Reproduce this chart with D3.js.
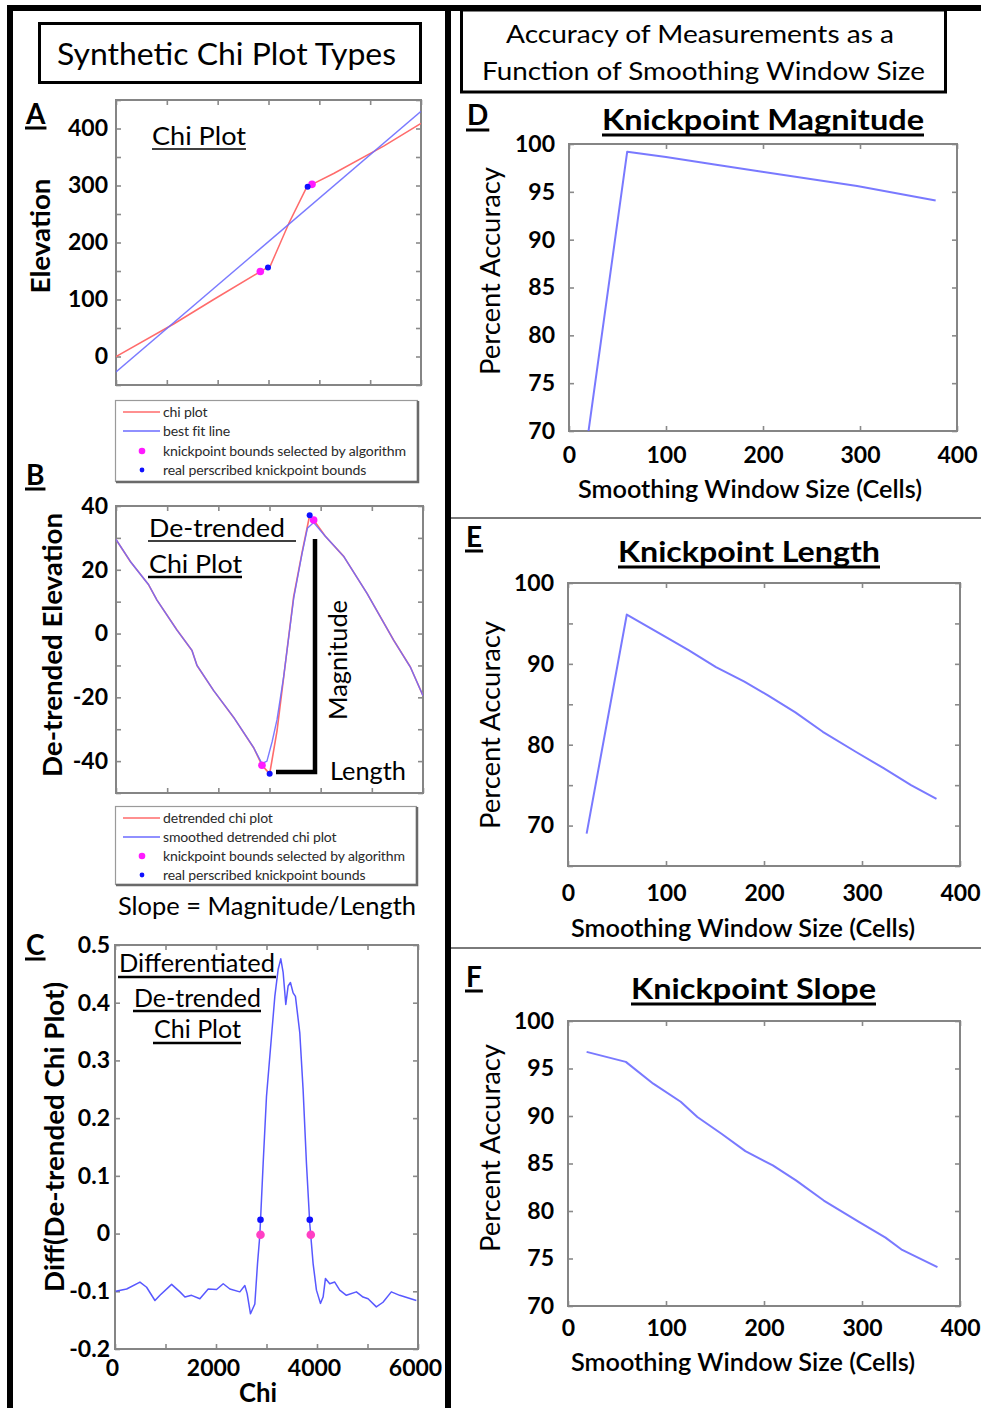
<!DOCTYPE html>
<html><head><meta charset="utf-8">
<script src="https://cdn.jsdelivr.net/npm/d3@7"></script>
<style>
body{margin:0;background:#fff}
svg{display:block}
text{font-family:Lato,"Open Sans",sans-serif}
</style>
</head><body>
<svg id="c" width="981" height="1408"></svg>
<script>
// ---------------- DATA ----------------
// Panel A: chi plot
const chiA  = [0, 1134, 1921, 2839, 3036, 3397, 3757, 3856, 4282, 5265, 6000];
const elevA = [0, 57, 100, 149, 159, 233, 298, 302, 321, 369, 409];
const bestFitChi  = [0, 6000];
const bestFitElev = [-27, 430];
const algoChiA = [2839, 3856], algoElevA = [149, 302];
const realChiA = [2990, 3770], realElevA = [156, 298];
const aYTicks = [-50, 0, 50, 100, 150, 200, 250, 300, 350, 400, 450];
const aYLabels = [0, 100, 200, 300, 400];
const chiTicks = [0, 1000, 2000, 3000, 4000, 5000, 6000];

// Panel B: de-trended chi plot
const detChi = [0, 280, 638, 801, 1192, 1485, 1583, 1909, 2300, 2690, 2853, 3003, 3147, 3277, 3472, 3635, 3785, 3863, 4091, 4450, 4906, 5427, 5753, 6000];
const detVal = [29.5, 22.6, 15.3, 10.5, 1.1, -5.3, -10, -17.9, -26.3, -35.8, -41.3, -44, -30.5, -13.7, 11.6, 25.3, 37.1, 35.6, 30.5, 24.2, 12.6, -2.1, -10.5, -19.5];
const smChi = [0, 280, 638, 801, 1192, 1485, 1583, 1909, 2300, 2690, 2853, 2950, 3050, 3147, 3277, 3472, 3635, 3740, 3863, 4091, 4450, 4906, 5427, 5753, 6000];
const smVal = [29.5, 22.6, 15.3, 10.5, 1.1, -5.3, -10, -17.9, -26.3, -35.8, -40.8, -40, -34, -27, -13.5, 11, 25, 33, 34.8, 30.5, 24.2, 12.6, -2.1, -10.5, -19.5];
const algoChiB = [2853, 3863], algoValB = [-41.3, 35.6];
const realChiB = [3003, 3785], realValB = [-44, 37.1];
const bYTicks = [-50, -40, -30, -20, -10, 0, 10, 20, 30, 40];
const bYLabels = [-40, -20, 0, 20, 40];

// Panel C: differentiated de-trended chi plot
const diffChi = [13, 231, 494, 626, 791, 890, 1121, 1286, 1385, 1516, 1681, 1846, 2011, 2143, 2275, 2472, 2571, 2617, 2683, 2769, 2822, 2868, 2934, 3000, 3099, 3165, 3231, 3283, 3330, 3382, 3428, 3474, 3527, 3573, 3659, 3725, 3791, 3857, 3923, 3989, 4068, 4121, 4167, 4252, 4351, 4450, 4582, 4780, 4912, 5011, 5175, 5307, 5472, 5637, 5967];
const diffVal = [-0.100, -0.096, -0.084, -0.093, -0.116, -0.107, -0.088, -0.101, -0.110, -0.107, -0.113, -0.096, -0.097, -0.087, -0.096, -0.101, -0.090, -0.104, -0.139, -0.122, -0.052, -0.003, 0.122, 0.238, 0.342, 0.411, 0.458, 0.476, 0.452, 0.397, 0.429, 0.435, 0.417, 0.411, 0.348, 0.249, 0.122, 0.017, -0.052, -0.098, -0.121, -0.110, -0.078, -0.087, -0.084, -0.098, -0.107, -0.101, -0.110, -0.113, -0.127, -0.119, -0.101, -0.107, -0.116];
const algoChiC = [2881, 3877], algoValC = [-0.002, -0.002];
const realChiC = [2881, 3857], realValC = [0.024, 0.024];
const cYTicks = [-0.2, -0.1, 0, 0.1, 0.2, 0.3, 0.4, 0.5];
const cXLabels = [0, 2000, 4000, 6000];

// Panels D-F: accuracy vs smoothing window size
const windowD = [20, 60, 100, 150, 199, 297, 378];
const accMagnitude = [69.9, 99.2, 98.65, 97.85, 97.1, 95.6, 94.1];
const windowE = [19, 60, 100, 123, 151, 180, 204, 232, 260, 294, 322, 350, 376];
const accLength = [69.0, 96.1, 93.3, 91.7, 89.6, 87.8, 86.1, 84.0, 81.6, 79.1, 77.1, 75.0, 73.3];
const windowF = [19, 59, 87, 115, 132, 157, 181, 209, 233, 261, 296, 324, 341, 377];
const accSlope = [96.75, 95.7, 93.4, 91.5, 89.9, 88.1, 86.3, 84.8, 83.2, 81.1, 78.9, 77.2, 75.9, 74.1];
const winTicks = [0, 100, 200, 300, 400];
const accTicks70 = [70, 75, 80, 85, 90, 95, 100];
const accTicks65 = [65, 70, 75, 80, 85, 90, 95, 100];
const accLabels65 = [70, 80, 90, 100];

// ---------------- DRAWING ----------------
const svg = d3.select('#c');
svg.append('rect').attr('width', 981).attr('height', 1408).attr('fill', '#fff');

function T(g, str, x, y, o) {
  o = o || {};
  const t = g.append('text').attr('x', x).attr('y', y).text(str)
    .attr('font-size', o.size || 24).attr('font-weight', o.w || 400)
    .attr('text-anchor', o.anchor || 'start').attr('fill', o.fill || '#000');
  if (o.family) t.attr('font-family', o.family);
  if (o.len) t.attr('textLength', o.len).attr('lengthAdjust', 'spacingAndGlyphs');
  if (o.rot) t.attr('transform', `rotate(${o.rot},${x},${y})`);
  return t;
}
function U(g, x1, x2, y, w) {
  g.append('line').attr('x1', x1).attr('x2', x2).attr('y1', y).attr('y2', y)
    .attr('stroke', '#000').attr('stroke-width', w || 2);
}

// outer frame
const fr = svg.append('g');
fr.append('line').attr('x1', 7).attr('x2', 981).attr('y1', 8).attr('y2', 8).attr('stroke', '#000').attr('stroke-width', 6);
fr.append('line').attr('x1', 10).attr('x2', 10).attr('y1', 5).attr('y2', 1408).attr('stroke', '#000').attr('stroke-width', 6);
fr.append('line').attr('x1', 448).attr('x2', 448).attr('y1', 5).attr('y2', 1408).attr('stroke', '#000').attr('stroke-width', 6);
[518, 948].forEach(yy => fr.append('line').attr('x1', 451).attr('x2', 981).attr('y1', yy).attr('y2', yy)
  .attr('stroke', '#7a7a7a').attr('stroke-width', 2));

// title boxes
fr.append('rect').attr('x', 39.5).attr('y', 23.5).attr('width', 381).attr('height', 59)
  .attr('fill', 'none').attr('stroke', '#000').attr('stroke-width', 3);
T(fr, 'Synthetic Chi Plot Types', 57, 65, {size: 30, len: 339});
fr.append('rect').attr('x', 461.5).attr('y', 10).attr('width', 484).attr('height', 82)
  .attr('fill', 'none').attr('stroke', '#000').attr('stroke-width', 3);
T(fr, 'Accuracy of Measurements as a', 506, 43, {size: 25, len: 388});
T(fr, 'Function of Smoothing Window Size', 482, 80, {size: 25, len: 443});

// panel letters
[['A', 26, 124, 128], ['B', 26, 485, 489], ['C', 26, 955, 959],
 ['D', 467, 125, 130], ['E', 466, 547, 551], ['F', 466, 987, 991]].forEach(([l, x, y, uy]) => {
  const t = T(fr, l, x, y, {size: 28, w: 700});
  const w = t.node().getComputedTextLength();
  U(fr, x - 1, x + w + 1, uy, 3);
});

let clipId = 0;
function panel(o) {
  const x = d3.scaleLinear().domain(o.xd).range([o.x0, o.x1]);
  const y = d3.scaleLinear().domain(o.yd).range([o.y1, o.y0]);
  const g = svg.append('g');
  const id = 'clip' + (clipId++);
  g.append('clipPath').attr('id', id).append('rect')
    .attr('x', o.x0).attr('y', o.y0).attr('width', o.x1 - o.x0).attr('height', o.y1 - o.y0);
  const style = s => {
    s.select('.domain').remove();
    s.selectAll('.tick line').attr('stroke', '#8a8a8a').attr('stroke-width', 1.6);
    s.selectAll('.tick text').attr('font-family', 'Lato, sans-serif').attr('font-size', o.tsize || 23)
      .attr('font-weight', o.tw || 700).attr('fill', '#000');
  };
  const yl = o.yl || o.yt;
  g.append('g').attr('transform', `translate(${o.x0},0)`)
    .call(d3.axisLeft(y).tickValues(o.yt).tickSize(-5).tickPadding(o.yPad)
      .tickFormat(d => yl.includes(d) ? String(d) : '')).call(style);
  g.append('g').attr('transform', `translate(${o.x1},0)`)
    .call(d3.axisRight(y).tickValues(o.yt).tickSize(-5).tickFormat('')).call(style);
  const xl = o.xl || [];
  const xa = g.append('g').attr('transform', `translate(0,${o.y1})`)
    .call(d3.axisBottom(x).tickValues(o.xt).tickSize(-5).tickPadding(o.xPad || 10)
      .tickFormat(d => xl.includes(d) ? String(d) : '')).call(style);
  if (o.xdx) xa.selectAll('.tick text').attr('dx', o.xdx);
  g.append('g').attr('transform', `translate(0,${o.y0})`)
    .call(d3.axisTop(x).tickValues(o.xt).tickSize(-5).tickFormat('')).call(style);
  g.append('rect').attr('x', o.x0).attr('y', o.y0).attr('width', o.x1 - o.x0).attr('height', o.y1 - o.y0)
    .attr('fill', 'none').attr('stroke', '#858585').attr('stroke-width', 2);
  const plot = g.append('g').attr('clip-path', `url(#${id})`);
  return {x, y, g, plot};
}
function drawLine(p, xs, ys, color, w, op) {
  const idx = d3.range(xs.length);
  p.plot.append('path').datum(idx)
    .attr('d', d3.line().x(i => p.x(xs[i])).y(i => p.y(ys[i])))
    .attr('fill', 'none').attr('stroke', color).attr('stroke-width', w)
    .attr('stroke-opacity', op == null ? 1 : op).attr('stroke-linejoin', 'round');
}
function drawDots(p, xs, ys, color, r) {
  p.g.selectAll(null).data(d3.range(xs.length)).enter().append('circle')
    .attr('cx', i => p.x(xs[i])).attr('cy', i => p.y(ys[i])).attr('r', r).attr('fill', color);
}
function legend(x0, y0, x1, y1, items) {
  const g = svg.append('g');
  g.append('rect').attr('x', x0 + 0.5).attr('y', y0 + 0.5).attr('width', x1 - x0 - 1).attr('height', y1 - y0 - 1)
    .attr('fill', '#fff').attr('stroke', '#9a9a9a').attr('stroke-width', 1.2);
  g.append('path').attr('d', `M${x0 + 1},${y1} H${x1} V${y0 + 1}`).attr('fill', 'none')
    .attr('stroke', '#6a6a6a').attr('stroke-width', 2.5);
  const texts = [];
  items.forEach(it => {
    if (it.type === 'line') {
      g.append('line').attr('x1', x0 + 8).attr('x2', x0 + 45).attr('y1', it.y).attr('y2', it.y)
        .attr('stroke', it.color).attr('stroke-width', 1.4);
    } else {
      g.append('circle').attr('cx', x0 + 27).attr('cy', it.y).attr('r', it.r).attr('fill', it.color);
    }
    texts.push(T(g, it.label, x0 + 48, it.y + 4.5, {size: 13, family: '"Liberation Sans", Arial, sans-serif', fill: '#2a2a2a'}));
  });
  // fit the longest label to the box width
  const maxW = d3.max(texts, t => t.node().getComputedTextLength());
  const fs = 13 * (x1 - x0 - 54) / maxW;
  texts.forEach(t => t.attr('font-size', fs).attr('letter-spacing', -0.15));
}

const RED = '#ff6b6b', BLUE = '#6b6bff';

// ---- Panel A ----
const pA = panel({x0: 116, x1: 421, y0: 100, y1: 385, xd: [0, 6000], yd: [-50, 450],
  yt: aYTicks, yl: aYLabels, xt: chiTicks, xl: [], yPad: 8});
drawLine(pA, chiA, elevA, RED, 1.5);
drawLine(pA, bestFitChi, bestFitElev, BLUE, 1.4, 0.9);
drawDots(pA, algoChiA, algoElevA, '#ff1aff', 3.8);
drawDots(pA, realChiA, realElevA, '#1010ff', 3);
T(svg, 'Chi Plot', 152, 145, {size: 25, len: 94});
U(svg, 152, 246, 149, 1.6);
T(svg, 'Elevation', 50, 236, {size: 26, w: 700, anchor: 'middle', rot: -90, len: 115});
legend(115, 400, 418, 482, [
  {type: 'line', color: RED, label: 'chi plot', y: 412},
  {type: 'line', color: BLUE, label: 'best fit line', y: 431},
  {type: 'dot', color: '#ff1aff', r: 3.3, label: 'knickpoint bounds selected by algorithm', y: 451},
  {type: 'dot', color: '#1010ff', r: 2.4, label: 'real perscribed knickpoint bounds', y: 470}
]);

// ---- Panel B ----
const pB = panel({x0: 116, x1: 423, y0: 506, y1: 793, xd: [0, 6000], yd: [-50, 40],
  yt: bYTicks, yl: bYLabels, xt: chiTicks, xl: [], yPad: 8});
drawLine(pB, detChi, detVal, RED, 1.6);
drawLine(pB, smChi, smVal, BLUE, 1.4, 0.9);
drawDots(pB, algoChiB, algoValB, '#ff1aff', 3.8);
drawDots(pB, realChiB, realValB, '#1010ff', 3);
T(svg, 'De-trended', 149, 537, {size: 25, len: 136});
U(svg, 148, 296, 541, 1.5);
T(svg, 'Chi Plot', 149, 573, {size: 25, len: 93});
U(svg, 148, 242, 577, 2.5);
// magnitude / length bracket
svg.append('path').attr('d', 'M315,539 V772 H276').attr('fill', 'none')
  .attr('stroke', '#000').attr('stroke-width', 4.5);
T(svg, 'Magnitude', 347, 660, {size: 25, anchor: 'middle', rot: -90, len: 120});
T(svg, 'Length', 330, 780, {size: 25, len: 76});
T(svg, 'De-trended Elevation', 62, 645, {size: 26, w: 700, anchor: 'middle', rot: -90, len: 264});
legend(115, 806, 417, 885, [
  {type: 'line', color: RED, label: 'detrended chi plot', y: 818},
  {type: 'line', color: BLUE, label: 'smoothed detrended chi plot', y: 837},
  {type: 'dot', color: '#ff1aff', r: 3.3, label: 'knickpoint bounds selected by algorithm', y: 856},
  {type: 'dot', color: '#1010ff', r: 2.4, label: 'real perscribed knickpoint bounds', y: 875}
]);
T(svg, 'Slope = Magnitude/Length', 118, 915, {size: 25, len: 298});

// ---- Panel C ----
const pC = panel({x0: 115, x1: 418, y0: 945, y1: 1349, xd: [0, 6000], yd: [-0.2, 0.5],
  yt: cYTicks, xt: chiTicks, xl: cXLabels, yPad: 5, xPad: 11, xdx: -3});
drawLine(pC, diffChi, diffVal, '#4f4fff', 1.5, 0.95);
drawDots(pC, realChiC, realValC, '#1010ff', 3.3);
drawDots(pC, algoChiC, algoValC, '#ff3fc4', 4.3);
T(svg, 'Differentiated', 119, 972, {size: 25, len: 156});
U(svg, 118, 276, 977, 2.5);
T(svg, 'De-trended', 134, 1007, {size: 25, len: 127});
U(svg, 133, 261, 1011, 2.5);
T(svg, 'Chi Plot', 154, 1038, {size: 25, len: 87});
U(svg, 153, 241, 1043, 2.5);
T(svg, 'Diff(De-trended Chi Plot)', 64, 1137, {size: 26, w: 700, anchor: 'middle', rot: -90, len: 310});
T(svg, 'Chi', 258, 1402, {size: 27, w: 700, anchor: 'middle', len: 38});

// ---- Panels D, E, F ----
function accPanel(cfg) {
  const p = panel({x0: cfg.x0, x1: cfg.x1, y0: cfg.y0, y1: cfg.y1, xd: [0, 400], yd: cfg.yd,
    yt: cfg.yt, yl: cfg.yl, xt: winTicks, xl: winTicks, yPad: 14, xPad: cfg.xPad, tsize: 23, tw: 700});
  drawLine(p, cfg.xs, cfg.ys, '#6a6aff', 2, 0.9);
  T(svg, cfg.title, cfg.tx, cfg.ty, {size: 29, w: 700, len: cfg.tw});
  U(svg, cfg.tx, cfg.tx + cfg.tw, cfg.ty + 5, 3);
  T(svg, 'Percent Accuracy', 500, cfg.ylc, {size: 26, anchor: 'middle', rot: -90, len: 208});
  T(svg, 'Smoothing Window Size (Cells)', cfg.xlc, cfg.xlb, {size: 25, w: 600, anchor: 'middle', len: 344});
}
accPanel({x0: 569, x1: 957, y0: 144, y1: 431, yd: [70, 100], yt: accTicks70, yl: accTicks70,
  xs: windowD, ys: accMagnitude, xPad: 16, title: 'Knickpoint Magnitude', tx: 602, ty: 130, tw: 322,
  ylc: 271, xlc: 750, xlb: 498});
accPanel({x0: 568, x1: 960, y0: 583, y1: 866, yd: [65, 100], yt: accTicks65, yl: accLabels65,
  xs: windowE, ys: accLength, xPad: 19, title: 'Knickpoint Length', tx: 618, ty: 562, tw: 262,
  ylc: 725, xlc: 743, xlb: 937});
accPanel({x0: 568, x1: 960, y0: 1021, y1: 1306, yd: [70, 100], yt: accTicks70, yl: accTicks70,
  xs: windowF, ys: accSlope, xPad: 14, title: 'Knickpoint Slope', tx: 631, ty: 999, tw: 245,
  ylc: 1148, xlc: 743, xlb: 1371});
</script>
</body></html>
